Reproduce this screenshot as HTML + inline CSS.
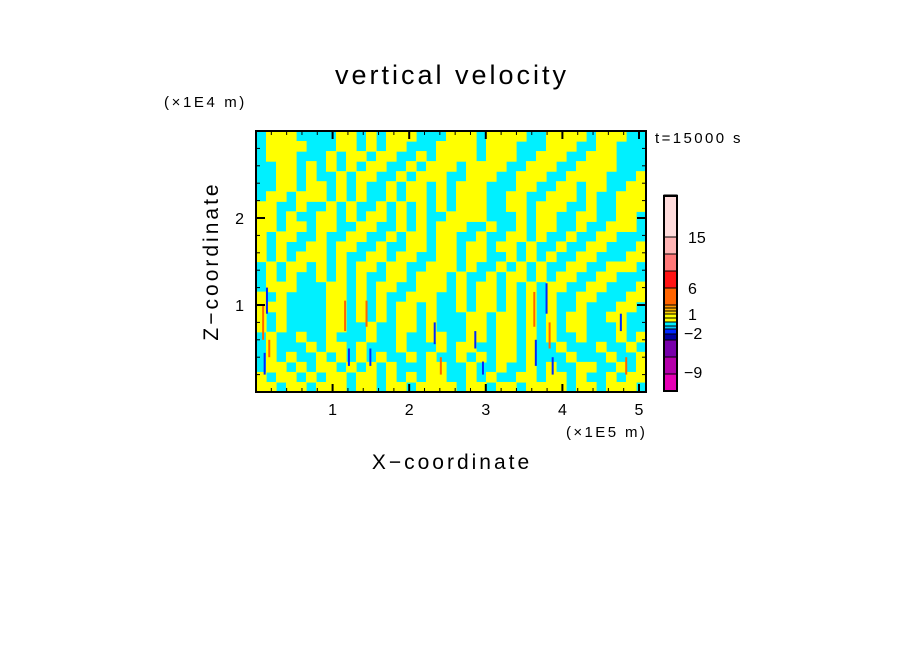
<!DOCTYPE html>
<html><head><meta charset="utf-8"><style>
html,body{margin:0;padding:0;background:#fff;}
svg text{font-family:"Liberation Sans",sans-serif;fill:#000;}
</style></head><body>
<svg id="chart" width="904" height="654" viewBox="0 0 904 654" xmlns="http://www.w3.org/2000/svg">
<text x="452" y="84" font-size="27" letter-spacing="3" text-anchor="middle">vertical velocity</text>
<text x="164" y="107" font-size="15" letter-spacing="2.6">(×1E4 m)</text>
<text x="655" y="143" font-size="15" letter-spacing="2.4">t=15000 s</text>
<text x="566" y="437" font-size="15" letter-spacing="2.4">(×1E5 m)</text>
<text x="452" y="469" font-size="21" letter-spacing="3" text-anchor="middle">X−coordinate</text>
<text x="0" y="0" font-size="21" letter-spacing="3" text-anchor="middle" transform="translate(218,261) rotate(-90)">Z−coordinate</text>
<g id="field"></g>
<g id="specks"></g>
<g id="axes"></g>
<g id="cbar"></g>
</svg>
<script>
const fieldRows = [
"CYYYCCCCYYCYCYYYCCCYYYCYYYYCCYYYYCYYYCC",
"CYYYYCCCYYCYCYYCCCYYYYCYYYCCCYYYCCYYCCC",
"CYYYCCCYCYYCYYCCYCYYYYCYYYCCYYYCCYYYCCC",
"CCYYCYCYCYCYYCCYCYYYCYYYYCCYYYCCYYYYCCC",
"CCYYCYCCYCYYCCYCYYYCCYYYCCYYYCCYYYYCCCY",
"CCYYCYYCYCYCCYCYYCYCYYYCCCYYCCYYCYYCCYY",
"CYYCYYYCYCYCCYCYYCYCYYYCCYYCCYYYCYCCYYY",
"YYCCYCCYCYCCYCYCYCYCYYYCCYYCYYYCCYCCYYY",
"YYCYCCYYCYCYYCYCYCCYYYYCCCYCYYCCYYCCYYC",
"YYCYYCYYCCYYCCYCYCYYYCCYCCYCYYCCYCCYYYC",
"YCYYCCYCCYYCCYCYYCYYCCYCCYYCYCCYCCYYCCC",
"YCYCCYYCYYCCYCCYYCYYCYYCYYCYCCYCCYYCCCY",
"YCYCYYYCYCCYYCYYCCYYCYYCCYCYCYCCYYCCCYY",
"CYCYYCYCYCYYCYYCCYYYCYCCYCYCYCCYYCCYYYC",
"CYCYCCYCYCYCCYYCYYYCYCCYCYYCYCYYCCYYCCC",
"CYYYCCCYYCYCYYCCYYYCYCYYCYCYCYYCCYYCCCY",
"YCYCCCCYYCYCYCCYYYCCYCYYCYCYCYCCYYCCCYY",
"YYYCCCCYYCYCYCYYCYCCYCYYCYCYCYCCYCCCYYC",
"YCYCCCCYYCYCYCYYCYCCCYYCYYCYCYCYYCCYYCC",
"YCYCCCCYYCCYCCYYCYCCCYYCYYCYCYCYYCCCYCC",
"CYCCYCCYCCCYCCYCCYYCCYYCYYCYCYCCYCCCYCY",
"CYCCCYCYYCYCCCYCCCYCYYCCYYCYCCYCCCYCCYC",
"CYCYCCYCYCYCYCCYCYCCYCYCYYCYCCCYCCCYCCY",
"CYYCYCYYCYCYCYCCCYYCCYCCYCCYCYCCYYCCYCY",
"YCYYCYCYYCYYCYCYCYYCCYCYCCYYCYYCYCCYCYY",
"YYCYYCYYYCYYCYYCYYYYCYYCYYCYYYYCYYCYYYC"
];
// extreme-value specks: x (1E5 m), z (1E4 m), length (1E4 m), sign
const speckX = [0.08,0.1,0.13,0.16,1.15,1.2,1.43,1.48,2.32,2.4,2.85,2.95,3.62,3.64,3.78,3.82,3.86,4.75,4.82];
const speckZ = [0.6,0.2,0.9,0.4,0.7,0.3,0.75,0.3,0.55,0.2,0.5,0.2,0.75,0.3,0.9,0.5,0.2,0.7,0.2];
const speckLen = [0.4,0.25,0.3,0.2,0.35,0.2,0.3,0.2,0.25,0.2,0.2,0.15,0.4,0.3,0.35,0.3,0.2,0.2,0.2];
const speckSign = [1,-1,-1,1,1,-1,1,-1,-1,1,-1,-1,1,-1,-1,1,-1,-1,1];
const xTicks = [1,2,3,4,5];
const yTicks = [1,2];
const cbarLevels = [-12,-9,-6,-4,-3,-2,-1,0,0.5,1,1.5,2,3,6,9,12,15,20];
const cbarColors = ["#e600b4","#b400aa","#7800aa","#0000a0","#0028ff","#00c8ff","#00f0ff","#ffff00","#ffff00","#ffd200","#ffb400","#ff9600","#ff6400","#ff1414","#ff7878","#ffb4b4","#ffdcdc"];
const cbarLabels = [15,6,1,-2,-9];

const NS="http://www.w3.org/2000/svg";
const L=256,R=646,T=131,B=392;
const xs=v=>L+v*76.6, ys=v=>B-v*87;
function mk(tag,attrs,parent){const e=document.createElementNS(NS,tag);for(const k in attrs)e.setAttribute(k,attrs[k]);parent.appendChild(e);return e;}
const field=document.getElementById('field');
const nr=fieldRows.length,nc=fieldRows[0].length;
const cw=(R-L)/nc,ch=(B-T)/nr;
mk('rect',{x:L,y:T,width:R-L,height:B-T,fill:'#00f0ff'},field);
fieldRows.forEach((row,r)=>{for(let c=0;c<nc;c++){if(row[c]==='Y'){
 const e=mk('rect',{x:L+c*cw,y:T+r*ch,width:cw+0.6,height:ch+0.6,fill:'#ffff00'},field);
 
 
}}});
const specks=document.getElementById('specks');
speckX.forEach((x,i)=>{
 const e=mk('rect',{x:xs(x),y:ys(speckZ[i]+speckLen[i]),width:2,height:speckLen[i]*87,fill:speckSign[i]>0?'#ff6400':'#0028ff'},specks);
 
 
});
const axes=document.getElementById('axes');
mk('rect',{x:L,y:T,width:R-L,height:B-T,fill:'none',stroke:'#000','stroke-width':2},axes);
for(let v=0.2;v<5.1;v+=0.2){const X=xs(v);const maj=Math.abs(v-Math.round(v))<0.01;const len=maj?8:4;
 mk('line',{x1:X,y1:B,x2:X,y2:B-len,stroke:'#000','stroke-width':maj?2:1},axes);
 mk('line',{x1:X,y1:T,x2:X,y2:T+len,stroke:'#000','stroke-width':maj?2:1},axes);}
for(let v=0.2;v<3;v+=0.2){const Y=ys(v);const maj=Math.abs(v-Math.round(v))<0.01;const len=maj?9:4;
 mk('line',{x1:L,y1:Y,x2:L+len,y2:Y,stroke:'#000','stroke-width':maj?2:1},axes);
 mk('line',{x1:R,y1:Y,x2:R-len,y2:Y,stroke:'#000','stroke-width':maj?2:1},axes);}
xTicks.forEach(v=>{const t=mk('text',{x:xs(v),y:415,'font-size':16,'text-anchor':'middle'},axes);t.textContent=v;
 });
yTicks.forEach(v=>{const t=mk('text',{x:244,y:ys(v)+6,'font-size':16,'text-anchor':'end'},axes);t.textContent=v;
 });
const cbar=document.getElementById('cbar');
const cT=196,cB=391,cL=664,cW=13,n=cbarColors.length;
const segH=[17,17,17,6,5,3,4,4,4,3,3,3,17,17,17,17,42];
let y=cB;
cbarColors.forEach((col,i)=>{const h=segH[i];y-=h;
 const e=mk('rect',{x:cL,y:y,width:cW,height:h,fill:col,stroke:'#000','stroke-width':1},cbar);
 });
mk('rect',{x:cL,y:cT,width:cW,height:cB-cT,fill:'none',stroke:'#000','stroke-width':2},cbar);
const labelY={15:243,6:294,1:320,'-2':339,'-9':378};
cbarLabels.forEach(v=>{const t=mk('text',{x:v<0?684:688,y:labelY[v],'font-size':16},cbar);t.textContent=v<0?'−'+Math.abs(v):v;
 });
</script>
</body></html>
